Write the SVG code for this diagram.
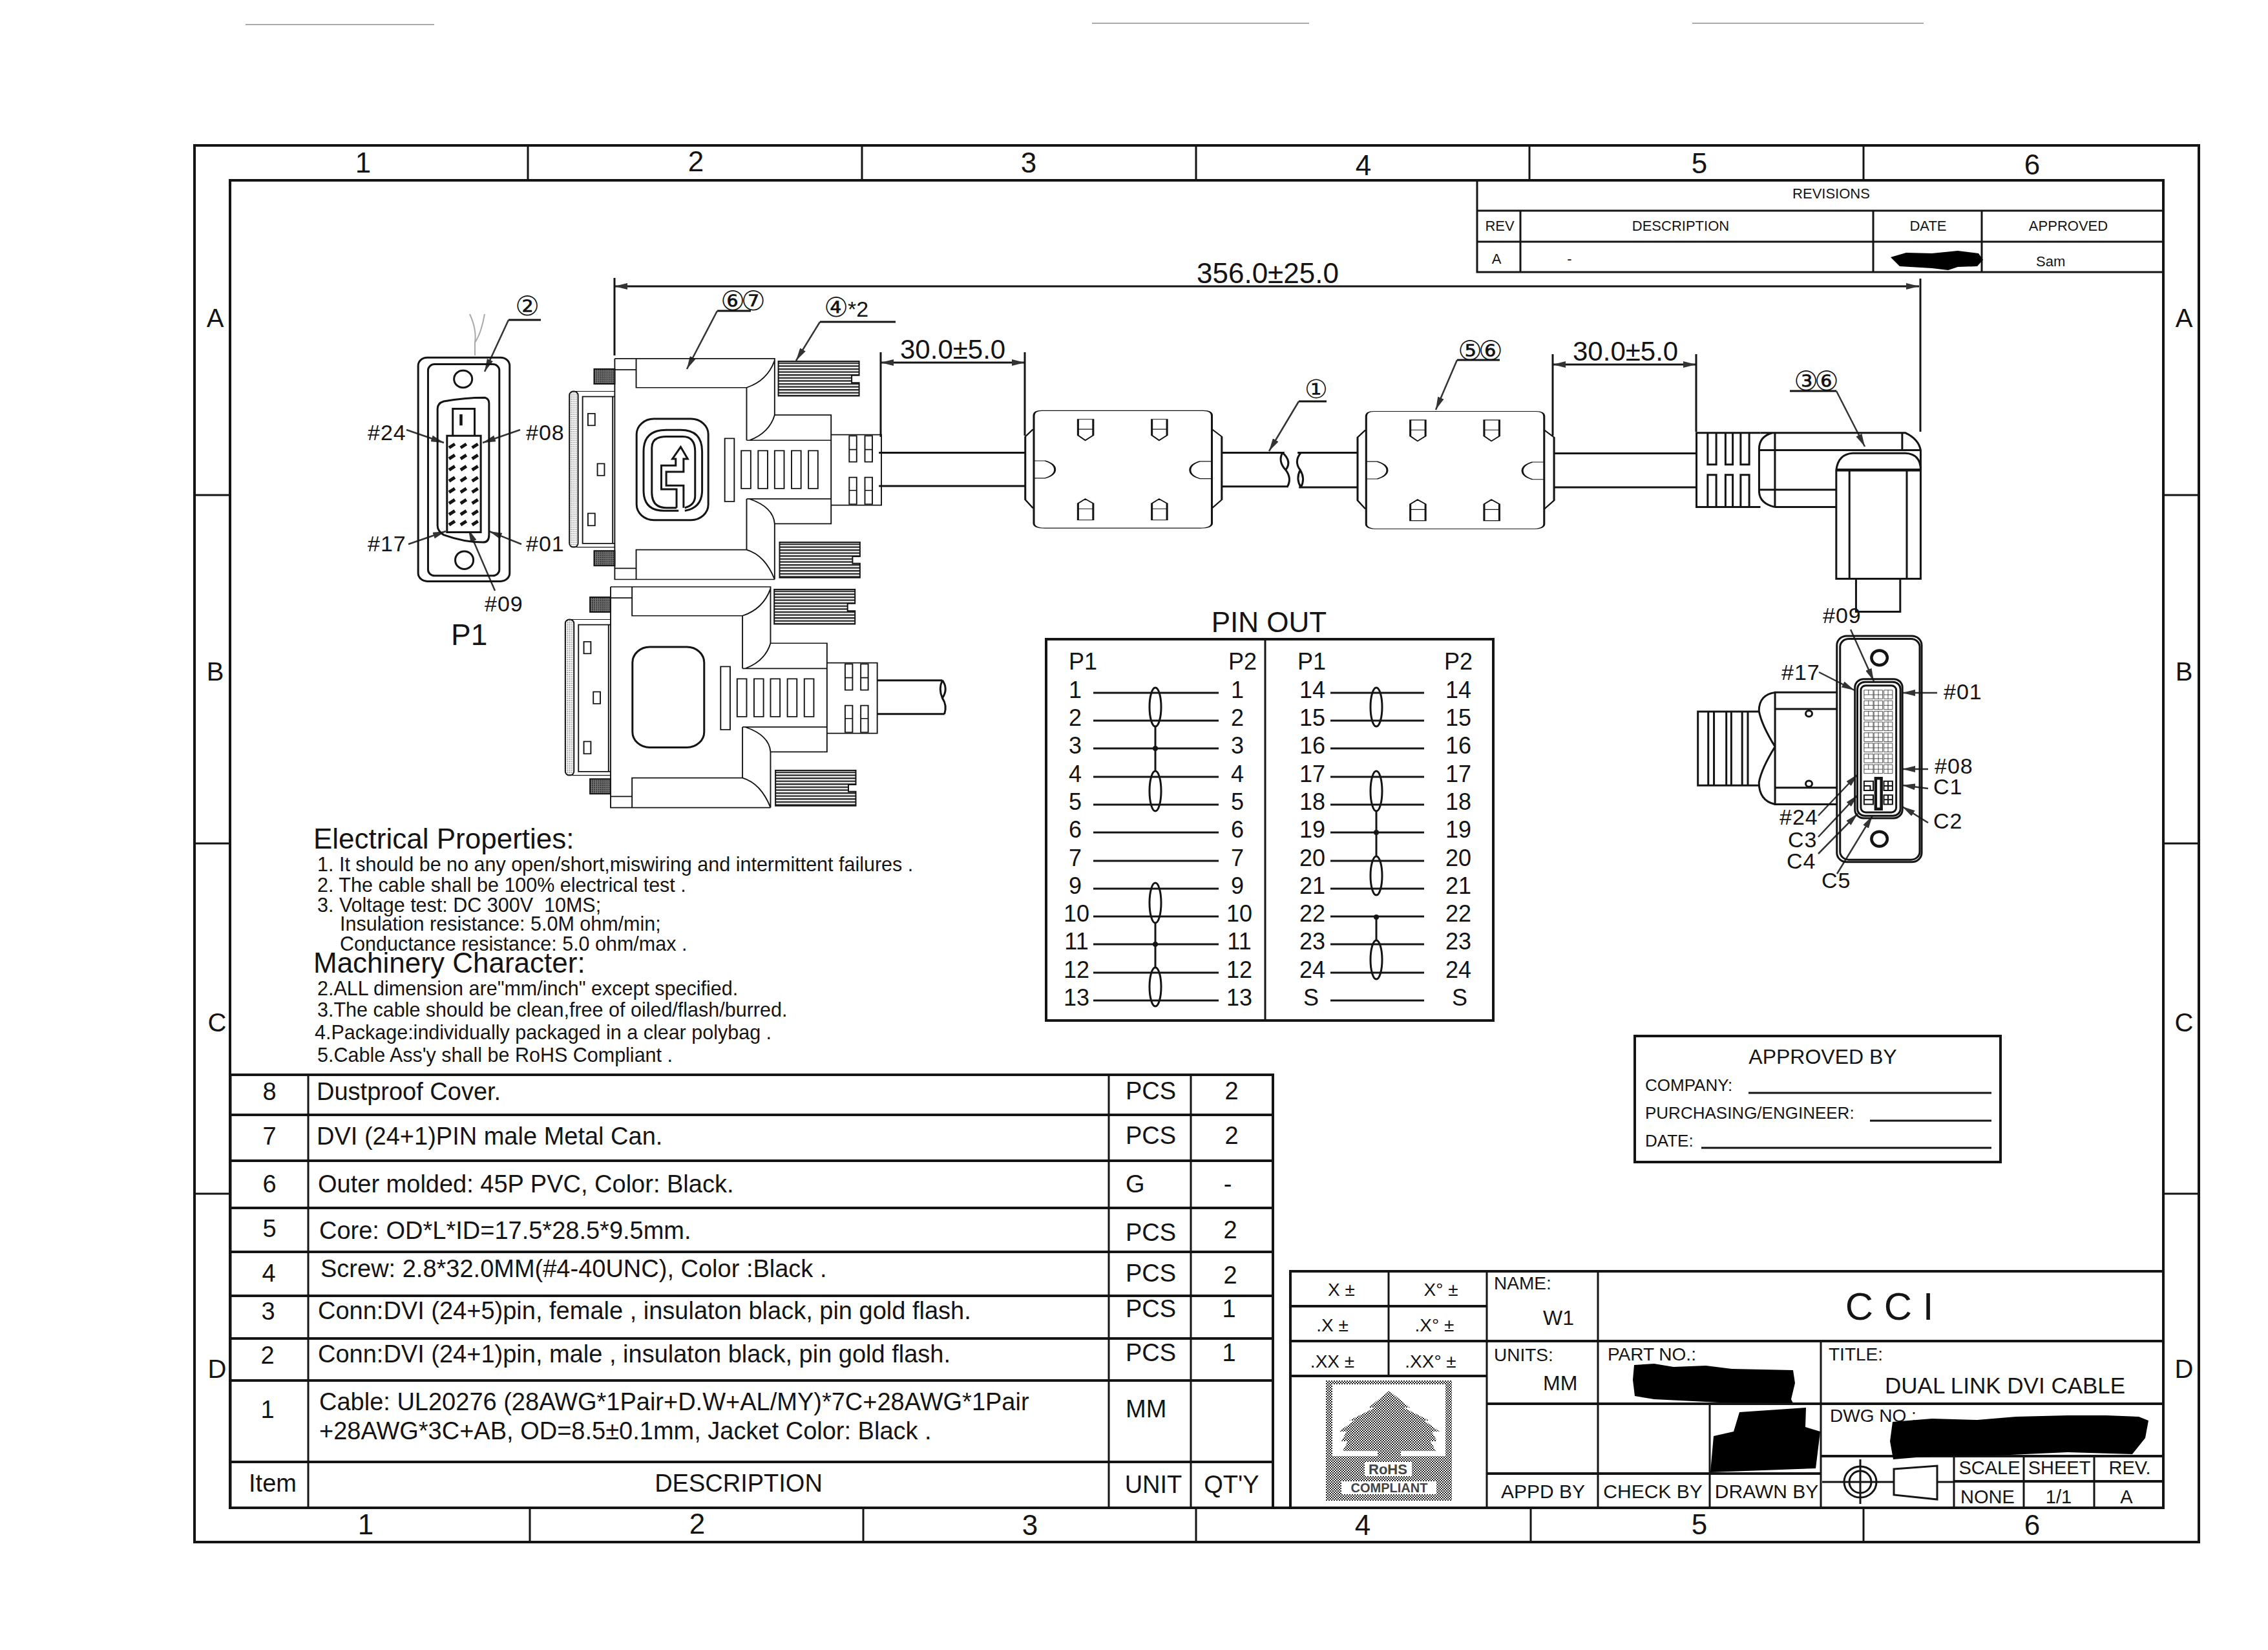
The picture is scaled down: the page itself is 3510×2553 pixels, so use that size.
<svg xmlns="http://www.w3.org/2000/svg" xmlns:xlink="http://www.w3.org/1999/xlink" width="3510" height="2553" viewBox="0 0 3510 2553">
<style>
text{font-family:"Liberation Sans",Arial,sans-serif;fill:#141414;white-space:pre}
.l,.l *{fill:none;stroke:#141414;stroke-width:3;vector-effect:non-scaling-stroke}
.w{fill:#fff !important}
.hb{stroke-width:4.5 !important}
.thin,.thin *{stroke-width:2 !important}
.h{fill:url(#hatch) !important;stroke:#141414;stroke-width:2;vector-effect:non-scaling-stroke}
.d{fill:url(#dark) !important;stroke:#141414;stroke-width:2;vector-effect:non-scaling-stroke}
.b{fill:url(#band) !important;stroke:#141414;stroke-width:2;vector-effect:non-scaling-stroke}
.f{stroke:#141414;stroke-width:4;fill:none}
.t{stroke:#141414;stroke-width:3;fill:none}
.ld{stroke:#333;stroke-width:2.5;fill:none;marker-end:url(#a)}
.u{stroke:#141414;stroke-width:3;fill:none}
.blob{fill:#000}
.n{font-size:44px;text-anchor:middle}
.a{font-size:40px;text-anchor:middle}
.tb{font-size:38px}
.c{text-anchor:middle}
.s22{font-size:22px}
.s28{font-size:28px}
.s30{font-size:30px}
.s26{font-size:26px}
.prop{font-size:30.5px}
.hd{font-size:44px}
.pin{font-size:36px;text-anchor:middle}
.lab{font-size:34px;letter-spacing:1px}
.dim{font-size:42px}
.circ{font-family:"DejaVu Sans",sans-serif;font-size:40px;text-anchor:middle}
</style>
<defs>
<marker id="a" markerUnits="userSpaceOnUse" markerWidth="20" markerHeight="10" refX="20" refY="5" orient="auto-start-reverse"><path d="M0 0L20 5L0 10Z" fill="#333"/></marker>
<pattern id="hatch" patternUnits="userSpaceOnUse" width="8" height="8"><rect width="8" height="4" fill="#222"/></pattern>
<pattern id="dark" patternUnits="userSpaceOnUse" width="5" height="5"><rect width="5" height="5" fill="#777"/><rect width="2.5" height="2.5" fill="#111"/></pattern>
<pattern id="band" patternUnits="userSpaceOnUse" width="5" height="5"><rect width="5" height="5" fill="#fff"/><rect width="2" height="2" fill="#333"/></pattern>
<pattern id="dots" patternUnits="userSpaceOnUse" width="4" height="4"><rect width="4" height="4" fill="#fff"/><rect width="2" height="2" fill="#222"/><rect x="2" y="2" width="2" height="2" fill="#222"/></pattern>
<g id="dvi-body">
<path d="M645 270H1033V422M645 270V865H1033M697 270V348H965V490M965 348Q1015 330 1033 275M1033 422Q1020 470 972 490M965 490H1170M1033 422H1170V715H1033M965 648H1170M965 648V785M972 648Q1030 670 1033 715V865M965 785Q1010 800 1033 865M697 865V785H965M645 300H697M645 835H697"/>
<path d="M1170 475H1292V665H1170"/>
<path d="M1214 478H1232V548H1214ZM1214 515H1232M1252 478H1270V548H1252ZM1252 515H1270M1214 590H1232V662H1214ZM1214 625H1232M1252 590H1270V662H1252ZM1252 625H1270"/>
<rect x="912" y="485" width="23" height="170"/>
<rect x="952" y="518" width="23" height="102"/><rect x="993" y="518" width="23" height="102"/><rect x="1033" y="518" width="23" height="102"/><rect x="1074" y="518" width="23" height="102"/><rect x="1115" y="518" width="23" height="102"/>
<rect class="b" x="535" y="358" width="21" height="420" rx="10"/>
<path class="thin" d="M645 358H548M645 778H552"/>
<path d="M645 372H567V768H645M640 372V768"/>
<rect x="580" y="418" width="17" height="32"/><rect x="603" y="553" width="17" height="32"/><rect x="580" y="687" width="17" height="33"/>
<rect class="d" x="595" y="298" width="50" height="40"/><rect class="d" x="595" y="788" width="50" height="40"/>
<path class="h" d="M1042 277H1238V315H1220V335H1238V370H1042Z"/>
<path class="h" d="M1045 765H1240V803H1222V822H1240V860H1045Z"/>
</g>
<g id="ferrite">
<path d="M110 615H355Q368 615 368 635V1070Q368 1090 350 1090H115Q98 1090 98 1070V635Q98 615 110 615Z"/>
<path d="M97 690L85 720V975L97 1010M368 690L383 720V975L368 1010"/>
<path d="M165 650H188V715L176 735L165 715ZM165 690H188M277 650H300V715L288 735L277 715ZM277 690H300M165 1057H188V990L176 972L165 990ZM165 1012H188M277 1057H300V990L288 972L277 990ZM277 1012H300"/>
<path d="M98 818H115Q130 830 130 853Q130 876 115 888H98M368 820H350Q335 832 335 855Q335 878 350 890H368"/>
</g>
<g id="pinrow" class="thin">
<path d="M875 0H912V38H875ZM893 0V20H875M893 20H912M915 0H950V38H915ZM933 0V38M915 20H950M955 0H990V38H955ZM972 0V38M955 20H990"/>
</g>
</defs>
<rect width="3510" height="2553" fill="#fff"/>
<g id="scan-marks" stroke="#aaa" stroke-width="2" fill="none">
<path d="M380 38H672M1690 36H2026M2619 36H2977"/>
<path d="M727 486Q738 510 735 530Q745 515 750 486M735 530V550"/>
</g>
<g id="frame">
<rect class="f" x="301" y="225" width="3102" height="2161"/>
<rect class="f" x="356" y="279" width="2992" height="2054"/>
<path class="t" d="M817 225V279M1334 225V279M1851 225V279M2367 225V279M2884 225V279M820 2333V2386M1336 2333V2386M1851 2333V2386M2369 2333V2386M2884 2333V2386M301 766H356M301 1305H356M301 1847H356M3348 766H3403M3348 1305H3403M3348 1847H3403"/>
<text class="n" x="562" y="267">1</text><text class="n" x="1077" y="265">2</text><text class="n" x="1592" y="267">3</text><text class="n" x="2110" y="271">4</text><text class="n" x="2630" y="268">5</text><text class="n" x="3145" y="270">6</text>
<text class="n" x="566" y="2374">1</text><text class="n" x="1079" y="2373">2</text><text class="n" x="1594" y="2375">3</text><text class="n" x="2109" y="2375">4</text><text class="n" x="2630" y="2374">5</text><text class="n" x="3145" y="2375">6</text>
<text class="a" x="333" y="506">A</text><text class="a" x="333" y="1053">B</text><text class="a" x="336" y="1596">C</text><text class="a" x="336" y="2132">D</text>
<text class="a" x="3380" y="506">A</text><text class="a" x="3380" y="1053">B</text><text class="a" x="3380" y="1596">C</text><text class="a" x="3380" y="2132">D</text>
</g>
<g id="revisions">
<path class="t" d="M2286 279V421H3348M2286 326H3348M2286 374H3348M2353 326V421M2899 326V421M3067 326V421"/>
<text class="s22 c" x="2834" y="307">REVISIONS</text>
<text class="s22 c" x="2321" y="357">REV</text><text class="s22 c" x="2601" y="357">DESCRIPTION</text><text class="s22 c" x="2984" y="357">DATE</text><text class="s22 c" x="3201" y="357">APPROVED</text>
<text class="s22 c" x="2316" y="408">A</text><text class="s22 c" x="2429" y="408">-</text><text class="s22" x="3151" y="412">Sam</text>
<path class="blob" d="M2926 398L2950 391L2990 392L3030 388L3062 392L3069 402L3060 412L3030 413L3015 418L2990 415L2940 412Z"/>
</g>
<g id="connectors">
<path class="u" d="M951 430V550M2972 431V668M1363 545V676M1586 545V674M2403 548V674M2625 548V668"/>
<path class="u" d="M951 443H2970" marker-start="url(#a)" marker-end="url(#a)"/>
<path class="u" d="M1363 561H1586" marker-start="url(#a)" marker-end="url(#a)"/>
<path class="u" d="M2403 564H2625" marker-start="url(#a)" marker-end="url(#a)"/>
<path class="u" d="M787 495H837M1110 481H1162M1269 498H1386M2010 621H2053M2255 557H2321M2770 605H2842"/>
<path class="ld" d="M787 495L750 575"/><path class="ld" d="M1110 481L1063 571"/><path class="ld" d="M1269 498L1232 558"/>
<path class="ld" d="M2010 621L1964 698"/><path class="ld" d="M2255 557L2222 634"/><path class="ld" d="M2842 605L2886 691"/>
<path class="ld" d="M629 665L687 685"/><path class="ld" d="M805 665L747 685"/><path class="ld" d="M632 842L690 822"/><path class="ld" d="M807 842L757 822"/><path class="ld" d="M766 914L725 819"/>
<path class="ld" d="M2864 974L2900 1054"/><path class="ld" d="M2815 1040L2870 1068"/><path class="ld" d="M2998 1072H2944"/><path class="ld" d="M2984 1190H2944"/><path class="ld" d="M2984 1220L2944 1215"/><path class="ld" d="M2984 1273L2944 1248"/>
<path class="ld" d="M2814 1262L2875 1198"/><path class="ld" d="M2814 1295L2875 1230"/><path class="ld" d="M2814 1321L2875 1259"/><path class="ld" d="M2843 1352L2898 1262"/>
<text class="dim" x="1852" y="438" style="font-size:44px">356.0±25.0</text>
<text class="dim" x="1393" y="555">30.0±5.0</text>
<text class="dim" x="2434" y="558">30.0±5.0</text>
</g>
<g id="p1-face">
<g class="l" transform="translate(540,400) scale(.6378,.574)">
<rect x="168" y="267" width="222" height="603" rx="22"/>
<rect x="192" y="285" width="173" height="570" rx="16"/>
<ellipse cx="277" cy="325" rx="22" ry="23"/><ellipse cx="280" cy="813" rx="22" ry="24"/>
<path d="M230 385Q280 375 330 375Q340 378 340 390V745Q340 765 325 765Q280 765 230 745Q215 735 215 720V405Q215 390 230 385Z"/>
<path d="M252 478V405H305V478"/>
<rect x="238" y="478" width="82" height="260" class="w"/>
<path d="M243 510L257 500M271 510L285 500M299 510L313 500M243 540L257 530M271 540L285 530M299 540L313 530M243 570L257 560M271 570L285 560M299 570L313 560M243 600L257 590M271 600L285 590M299 600L313 590M243 630L257 620M271 630L285 620M299 630L313 620M243 660L257 650M271 660L285 650M299 660L313 650M243 690L257 680M271 690L285 680M299 690L313 680M243 718L257 708M271 718L285 708M299 718L313 708" style="stroke-width:5"/>
<path class="hb" d="M272 420V450"/>
</g>
<text class="lab" x="569" y="681">#24</text><text class="lab" x="814" y="681">#08</text><text class="lab" x="569" y="853">#17</text><text class="lab" x="814" y="853">#01</text><text class="lab" x="750" y="946">#09</text>
<text x="698" y="998" style="font-size:46px">P1</text>
<text class="circ" x="816" y="488" style="font-size:42px">②</text>
</g>
<g id="p1-connector-top">
<g class="l" transform="translate(540,400) scale(.6378,.574)">
<use href="#dvi-body" xlink:href="#dvi-body"/>
<rect x="698" y="432" width="174" height="273" rx="42"/>
<path d="M800 680H765Q715 680 715 625V520Q715 462 770 462H805Q857 462 857 520V625Q857 672 815 680"/>
<path d="M795 672H770Q735 672 735 630V510Q735 480 770 480H810Q840 480 840 520V640Q840 665 815 672"/>
<path d="M795 672V622H758V558H793V540H785L805 508L822 540H812V575H770V612H812V672"/>
</g>
<text class="circ" x="1147" y="480" style="letter-spacing:-6px;font-size:42px">⑥⑦</text>
<text class="circ" x="1294" y="490" style="font-size:42px">④</text><text x="1312" y="490" style="font-size:34px">*2</text>
</g>
<g id="p1-connector-bottom">
<g class="l" transform="translate(540,400) scale(.6378,.574)">
<use href="#dvi-body" xlink:href="#dvi-body" transform="translate(-10,615)"/>
<rect x="688" y="1047" width="174" height="271" rx="42"/>
<path d="M1282 1137H1440M1282 1228H1445M1440 1137Q1455 1160 1440 1185Q1430 1160 1440 1137M1440 1185Q1452 1205 1445 1228"/>
</g>
</g>
<g id="cable">
<g class="l" transform="translate(1500,400) scale(1.0204,.3827)">
<path d="M-137 785H85M-137 920H85M383 785H478M383 922H482M498 785H590M500 925H590M888 788H1103M888 925H1103"/>
<path d="M475 785Q490 820 480 855Q490 890 482 925M475 785Q468 820 480 855M503 785Q492 820 502 855Q495 890 503 925M502 855Q510 890 503 925"/>
</g>
<text class="circ" x="2037" y="616" style="font-size:40px">①</text>
</g>
<g id="ferrite-1"><g class="l" transform="translate(1500,400) scale(1.0204,.3827)"><use href="#ferrite" xlink:href="#ferrite"/></g></g>
<g id="ferrite-2">
<g class="l" transform="translate(1500,400) scale(1.0204,.3827)"><use href="#ferrite" xlink:href="#ferrite" transform="translate(504,3)"/></g>
<text class="circ" x="2288" y="557" style="letter-spacing:-6px;font-size:42px">⑤⑥</text>
</g>
<g id="p2-side">
<g class="l" transform="translate(1500,400) scale(1.0204,.3827)">
<path d="M1200 705H1103V1005H1200M1120 705V833H1133V705M1147 705V833H1158V705M1170 705V833H1183V705M1120 1005V875H1133V1005M1147 1005V875H1158V1005M1170 1005V875H1183V1005M1103 833V875"/>
<path d="M1200 705H1420Q1440 730 1443 775V855M1198 775H1443M1218 705Q1198 720 1198 770V940Q1198 990 1222 1005M1222 705V1005M1415 705V775M1198 935H1315M1222 1005H1315"/>
<path class="w" d="M1315 855Q1318 790 1340 787H1420Q1443 790 1443 855V1295H1315Z"/>
<path class="hb" d="M1315 855H1443"/>
<path d="M1335 855V1295M1422 855V1295"/>
<path d="M1345 1295V1428H1412V1295"/>
</g>
<text class="circ" x="2808" y="604" style="letter-spacing:-6px;font-size:42px">③⑥</text>
<text class="lab" x="2821" y="964">#09</text>
</g>
<g id="p2-face">
<g class="l" transform="translate(2550,900) scale(.3827,.357)">
<rect x="765" y="235" width="343" height="980" rx="40"/><rect x="778" y="248" width="322" height="957" rx="35"/>
<ellipse cx="937" cy="330" rx="32" ry="32" class="hb"/><ellipse cx="937" cy="1115" rx="32" ry="32" class="hb"/>
<rect x="838" y="422" width="192" height="603" rx="36"/><rect x="848" y="435" width="174" height="580" rx="30"/><rect x="862" y="450" width="143" height="550" rx="20"/>
<use href="#pinrow" xlink:href="#pinrow" y="470"/><use href="#pinrow" xlink:href="#pinrow" y="516"/><use href="#pinrow" xlink:href="#pinrow" y="562"/><use href="#pinrow" xlink:href="#pinrow" y="608"/><use href="#pinrow" xlink:href="#pinrow" y="655"/><use href="#pinrow" xlink:href="#pinrow" y="700"/><use href="#pinrow" xlink:href="#pinrow" y="747"/><use href="#pinrow" xlink:href="#pinrow" y="793"/>
<path class="thin" d="M875 865H912V905H875ZM875 885H900V905M955 865H990V905H955ZM972 865V905M955 885H990M875 925H912V965H875ZM875 945H912M955 925H990V965H955ZM955 945H990M972 925V965"/>
<rect x="922" y="852" width="23" height="133" class="hb"/>
<path d="M765 480H515V965H765M515 552H765M515 893H765M515 480Q450 490 450 560Q460 620 515 715Q460 810 450 870Q450 950 515 965"/>
<path d="M450 563H203V883H450M245 563V883M268 563V883M318 563V883M338 563V883M382 563V883M405 563V883"/>
<ellipse cx="652" cy="572" rx="13" ry="13"/><ellipse cx="652" cy="876" rx="13" ry="13"/>
</g>
<text class="lab" x="2757" y="1052">#17</text><text class="lab" x="3008" y="1082">#01</text><text class="lab" x="2994" y="1197">#08</text><text class="lab" x="2992" y="1229">C1</text><text class="lab" x="2992" y="1282">C2</text><text class="lab" x="2754" y="1276">#24</text><text class="lab" x="2767" y="1311">C3</text><text class="lab" x="2765" y="1344">C4</text><text class="lab" x="2819" y="1374">C5</text>
</g>
<g id="pinout">
<text x="1964" y="978" class="c" style="font-size:44px">PIN OUT</text>
<rect class="f" x="1619" y="989" width="692" height="590"/>
<path class="t" d="M1958 989V1579"/>
<path class="t" d="M1692 1072H1886M1692 1115H1886M1692 1158H1886M1692 1202H1886M1692 1245H1886M1692 1288H1886M1692 1332H1886M1692 1375H1886M1692 1418H1886M1692 1461H1886M1692 1505H1886M1692 1548H1886"/>
<path class="t" d="M2059 1072H2204M2059 1115H2204M2059 1158H2204M2059 1202H2204M2059 1245H2204M2059 1288H2204M2059 1332H2204M2059 1375H2204M2059 1418H2204M2059 1461H2204M2059 1505H2204M2059 1548H2204"/>
<path class="t" d="M1788 1124V1193M1788 1428V1497M2130 1255V1325M2130 1419V1455"/>
<circle cx="1788" cy="1158" r="4" fill="#141414"/><circle cx="1788" cy="1461" r="4" fill="#141414"/><circle cx="2130" cy="1288" r="4" fill="#141414"/><circle cx="2130" cy="1419" r="4" fill="#141414"/>
<g class="t"><ellipse cx="1788" cy="1094" rx="9" ry="30"/><ellipse cx="1788" cy="1224" rx="9" ry="31"/><ellipse cx="1788" cy="1397" rx="9" ry="31"/><ellipse cx="1788" cy="1527" rx="9" ry="30"/><ellipse cx="2130" cy="1094" rx="9" ry="30"/><ellipse cx="2130" cy="1224" rx="9" ry="31"/><ellipse cx="2130" cy="1355" rx="9" ry="30"/><ellipse cx="2130" cy="1485" rx="9" ry="30"/></g>
<text class="pin" x="1676" y="1036">P1</text><text class="pin" x="1923" y="1036">P2</text><text class="pin" x="2030" y="1036">P1</text><text class="pin" x="2257" y="1036">P2</text>
<text class="pin" x="1664" y="1080">1</text><text class="pin" x="1664" y="1123">2</text><text class="pin" x="1664" y="1166">3</text><text class="pin" x="1664" y="1210">4</text><text class="pin" x="1664" y="1253">5</text><text class="pin" x="1664" y="1296">6</text><text class="pin" x="1664" y="1340">7</text><text class="pin" x="1664" y="1383">9</text><text class="pin" x="1666" y="1426">10</text><text class="pin" x="1666" y="1469">11</text><text class="pin" x="1666" y="1513">12</text><text class="pin" x="1666" y="1556">13</text>
<text class="pin" x="1915" y="1080">1</text><text class="pin" x="1915" y="1123">2</text><text class="pin" x="1915" y="1166">3</text><text class="pin" x="1915" y="1210">4</text><text class="pin" x="1915" y="1253">5</text><text class="pin" x="1915" y="1296">6</text><text class="pin" x="1915" y="1340">7</text><text class="pin" x="1915" y="1383">9</text><text class="pin" x="1918" y="1426">10</text><text class="pin" x="1918" y="1469">11</text><text class="pin" x="1918" y="1513">12</text><text class="pin" x="1918" y="1556">13</text>
<text class="pin" x="2031" y="1080">14</text><text class="pin" x="2031" y="1123">15</text><text class="pin" x="2031" y="1166">16</text><text class="pin" x="2031" y="1210">17</text><text class="pin" x="2031" y="1253">18</text><text class="pin" x="2031" y="1296">19</text><text class="pin" x="2031" y="1340">20</text><text class="pin" x="2031" y="1383">21</text><text class="pin" x="2031" y="1426">22</text><text class="pin" x="2031" y="1469">23</text><text class="pin" x="2031" y="1513">24</text><text class="pin" x="2029" y="1556">S</text>
<text class="pin" x="2257" y="1080">14</text><text class="pin" x="2257" y="1123">15</text><text class="pin" x="2257" y="1166">16</text><text class="pin" x="2257" y="1210">17</text><text class="pin" x="2257" y="1253">18</text><text class="pin" x="2257" y="1296">19</text><text class="pin" x="2257" y="1340">20</text><text class="pin" x="2257" y="1383">21</text><text class="pin" x="2257" y="1426">22</text><text class="pin" x="2257" y="1469">23</text><text class="pin" x="2257" y="1513">24</text><text class="pin" x="2259" y="1556">S</text>
</g>
<g id="notes">
<text class="hd" x="485" y="1313">Electrical Properties:</text>
<text class="prop" x="491" y="1348">1. It should be no any open/short,miswiring and intermittent failures .</text>
<text class="prop" x="491" y="1380">2. The cable shall be 100% electrical test .</text>
<text class="prop" x="491" y="1411">3. Voltage test: DC 300V  10MS;</text>
<text class="prop" x="526" y="1440">Insulation resistance: 5.0M ohm/min;</text>
<text class="prop" x="526" y="1471">Conductance resistance: 5.0 ohm/max .</text>
<text class="hd" x="485" y="1505">Machinery Character:</text>
<text class="prop" x="491" y="1540">2.ALL dimension are"mm/inch" except specified.</text>
<text class="prop" x="491" y="1573">3.The cable should be clean,free of oiled/flash/burred.</text>
<text class="prop" x="487" y="1608">4.Package:individually packaged in a clear polybag .</text>
<text class="prop" x="491" y="1643">5.Cable Ass'y shall be RoHS Compliant .</text>
</g>
<g id="bom">
<path class="f" d="M357 1663H1970V2332M357 1725H1970M357 1796H1970M357 1869H1970M357 1937H1970M357 2005H1970M357 2071H1970M357 2136H1970M357 2262H1970"/>
<path class="t" d="M357 1663V2332M477 1663V2332M1716 1663V2332M1843 1663V2332"/>
<g class="tb" transform="translate(0,-2)">
<text class="c" x="417" y="1704">8</text><text class="c" x="417" y="1773">7</text><text class="c" x="417" y="1847">6</text><text class="c" x="417" y="1916">5</text><text class="c" x="416" y="1985">4</text><text class="c" x="415" y="2044">3</text><text class="c" x="414" y="2112">2</text><text class="c" x="414" y="2196">1</text>
<text x="490" y="1704">Dustproof Cover.</text>
<text x="490" y="1773">DVI (24+1)PIN male Metal Can.</text>
<text x="492" y="1847">Outer molded: 45P PVC, Color: Black.</text>
<text x="494" y="1919">Core: OD*L*ID=17.5*28.5*9.5mm.</text>
<text x="496" y="1978">Screw: 2.8*32.0MM(#4-40UNC), Color :Black .</text>
<text x="492" y="2043">Conn:DVI (24+5)pin, female , insulaton black, pin gold flash.</text>
<text x="492" y="2110">Conn:DVI (24+1)pin, male , insulaton black, pin gold flash.</text>
<text x="494" y="2184">Cable: UL20276 (28AWG*1Pair+D.W+AL/MY)*7C+28AWG*1Pair</text>
<text x="494" y="2229">+28AWG*3C+AB, OD=8.5±0.1mm, Jacket Color: Black .</text>
<text class="c" x="422" y="2310">Item</text><text class="c" x="1143" y="2310">DESCRIPTION</text>
<text x="1742" y="1703">PCS</text><text x="1742" y="1772">PCS</text><text x="1742" y="1847">G</text><text x="1742" y="1922">PCS</text><text x="1742" y="1985">PCS</text><text x="1742" y="2040">PCS</text><text x="1742" y="2108">PCS</text><text x="1742" y="2195">MM</text>
<text class="c" x="1906" y="1703">2</text><text class="c" x="1906" y="1772">2</text><text class="c" x="1900" y="1847">-</text><text class="c" x="1904" y="1918">2</text><text class="c" x="1904" y="1988">2</text><text class="c" x="1902" y="2040">1</text><text class="c" x="1902" y="2108">1</text>
<text class="c" x="1785" y="2312">UNIT</text><text class="c" x="1906" y="2312">QT'Y</text>
</g>
</g>
<g id="approved-by">
<rect class="f" x="2530" y="1603" width="566" height="195"/>
<text class="c" x="2821" y="1646" style="font-size:32px">APPROVED BY</text>
<text class="s26" x="2546" y="1688">COMPANY:</text><text class="s26" x="2546" y="1731">PURCHASING/ENGINEER:</text><text class="s26" x="2546" y="1774">DATE:</text>
<path class="t" d="M2706 1691H3082M2894 1734H3082M2633 1776H3082"/>
</g>
<g id="title-block">
<path class="f" d="M1997 2333V1967H3348V2333H1997M1997 2021H2301M1997 2075H3348M1997 2129H2301M2301 2172H3348M2818 2253H3348M2301 2280H2818M3024 2292H3348"/>
<path class="t" d="M2149 1967V2129M2301 1967V2333M2473 1967V2333M2818 2075V2333M2646 2172V2333M3024 2253V2333M3132 2253V2333M3241 2253V2333"/>
<g transform="translate(0,-2)">
<g style="font-size:28px">
<text class="c" x="2076" y="2007">X ±</text><text class="c" x="2230" y="2007">X° ±</text><text class="c" x="2062" y="2062">.X ±</text><text class="c" x="2220" y="2062">.X° ±</text><text class="c" x="2062" y="2118">.XX ±</text><text class="c" x="2214" y="2118">.XX° ±</text>
</g>
<g class="s28">
<text x="2312" y="1997">NAME:</text><text x="2312" y="2108">UNITS:</text><text x="2488" y="2107">PART NO.:</text><text x="2830" y="2107">TITLE:</text><text x="2832" y="2202">DWG NO :</text>
</g>
<text x="2388" y="2052" style="font-size:32px">W1</text><text x="2388" y="2153" style="font-size:32px">MM</text>
<text class="c" x="2924" y="2044" style="font-size:60px">C C I</text>
<text x="2917" y="2158" style="font-size:35px">DUAL LINK DVI CABLE</text>
<g class="s30">
<text class="c" x="2388" y="2320">APPD BY</text><text class="c" x="2558" y="2320">CHECK BY</text><text class="c" x="2734" y="2320">DRAWN BY</text>
<text class="c" x="3079" y="2283" style="font-size:29px">SCALE</text><text class="c" x="3187" y="2283" style="font-size:29px">SHEET</text><text class="c" x="3296" y="2283" style="font-size:29px">REV.</text>
<text class="c" x="3076" y="2328" style="font-size:29px">NONE</text><text class="c" x="3186" y="2328" style="font-size:29px">1/1</text><text class="c" x="3291" y="2328" style="font-size:29px">A</text>
</g>
</g>
<path class="blob" d="M2529 2112L2560 2110L2590 2115L2640 2113L2680 2118L2775 2120L2778 2140L2772 2165L2775 2171L2660 2170L2560 2165L2530 2160L2527 2135Z"/>
<path class="blob" d="M2929 2200L2990 2195L3060 2197L3120 2192L3200 2190L3260 2190L3310 2192L3325 2198L3320 2225L3300 2250L3200 2247L3090 2252L2990 2253L2930 2258L2925 2230Z"/>
<path class="blob" d="M2692 2185L2795 2178L2794 2208L2817 2215L2810 2272L2647 2278L2652 2222L2683 2215Z"/>
<g id="projection-symbol" class="t">
<ellipse cx="2879" cy="2293" rx="25" ry="24"/><ellipse cx="2879" cy="2293" rx="17" ry="17"/>
<path d="M2879 2258V2327M2820 2293H2930M2998 2293H3024M2931 2273L2998 2268V2320L2931 2313Z"/>
</g>
<g id="rohs-logo">
<rect x="2052" y="2136" width="195" height="186" fill="url(#dots)"/>
<rect x="2062" y="2142" width="175" height="111" fill="#fff"/>
<polygon fill="url(#dots)" points="2150,2152 2182,2178 2172,2178 2212,2198 2204,2198 2228,2215 2216,2215 2224,2230 2214,2230 2222,2245 2168,2245 2168,2257 2132,2257 2132,2245 2078,2245 2086,2230 2076,2230 2084,2215 2072,2215 2096,2198 2088,2198 2128,2178 2118,2178"/>
<rect x="2112" y="2262" width="73" height="22" fill="#fff"/>
<rect x="2076" y="2292" width="147" height="20" fill="#fff"/>
<text class="c" x="2148" y="2281" style="font-size:22px;font-weight:bold;fill:#444">RoHS</text>
<text class="c" x="2150" y="2309" style="font-size:20px;font-weight:bold;fill:#444">COMPLIANT</text>
</g>
</g>
</svg>
